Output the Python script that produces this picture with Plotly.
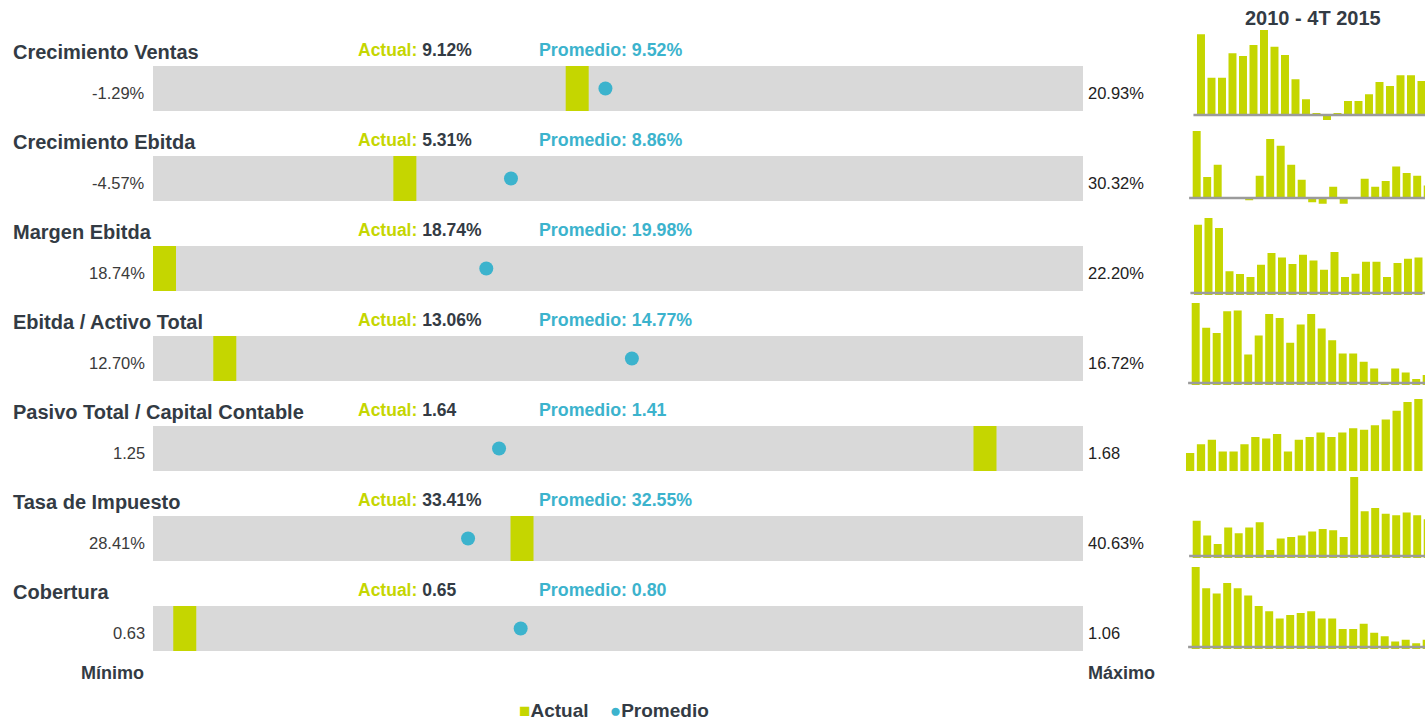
import plotly.graph_objects as go

W, H = 1425, 721

# ---------------- data ----------------
metrics = ["Crecimiento Ventas", "Crecimiento Ebitda", "Margen Ebitda",
           "Ebitda / Activo Total", "Pasivo Total / Capital Contable",
           "Tasa de Impuesto", "Cobertura"]
actual = [9.12, 5.31, 18.74, 13.06, 1.64, 33.41, 0.65]
promedio = [9.52, 8.86, 19.98, 14.77, 1.41, 32.55, 0.80]
minimo = [-1.29, -4.57, 18.74, 12.70, 1.25, 28.41, 0.63]
maximo = [20.93, 30.32, 22.20, 16.72, 1.68, 40.63, 1.06]
is_pct = [True, True, True, True, False, True, False]

spark_ventas = [19.86, 9.19, 9.19, 15.18, 14.53, 17.24, 20.93, 16.83, 14.77, 8.78, 3.86,
                0.41, -1.23, 0.41, 3.45, 3.45, 5.09, 8.13, 7.14, 9.77, 9.77, 8.37]
spark_ebitda = [30.32, 9.46, 15.0, 0, 0, -1.05, 10.06, 26.7, 23.6, 15.0, 8.26,
                -1.95, -2.55, 5.1, -2.55, 0, 8.7, 5.1, 7.66, 14.26, 11.26, 10.06, 5.7]
spark_margen = [21.84, 22.20, 21.67, 19.36, 19.21, 19.05, 19.71, 20.33, 20.10, 19.75, 20.24,
                19.94, 19.44, 20.39, 19.05, 19.23, 19.87, 19.87, 19.05, 19.80, 20.03, 20.10]
spark_activo = [16.72, 15.42, 15.14, 16.28, 16.33, 14.00, 15.00, 16.14, 15.93, 14.62, 15.58,
                16.14, 15.37, 14.76, 14.06, 14.06, 13.62, 13.27, 12.50, 13.27, 13.06, 12.71, 12.92]
spark_pasivo = [1.31, 1.37, 1.40, 1.32, 1.32, 1.37, 1.42, 1.41, 1.44, 1.32, 1.40,
                1.42, 1.45, 1.42, 1.45, 1.48, 1.47, 1.50, 1.54, 1.60, 1.66, 1.68]
spark_impuesto = [33.29, 30.82, 29.42, 32.17, 31.21, 32.17, 33.06, 28.41, 30.32, 30.60, 30.82,
                  31.49, 31.94, 31.72, 30.60, 40.63, 34.91, 35.42, 34.46, 34.24, 34.69, 34.24, 33.57]
spark_cobertura = [1.06, 0.94, 0.91, 0.97, 0.94, 0.90, 0.84, 0.81, 0.77, 0.79, 0.80,
                   0.81, 0.77, 0.77, 0.71, 0.71, 0.74, 0.69, 0.67, 0.64, 0.65, 0.63, 0.65]
sparks = [spark_ventas, spark_ebitda, spark_margen, spark_activo,
          spark_pasivo, spark_impuesto, spark_cobertura]
spark_title = "2010 - 4T 2015"

# ---------------- style / layout constants ----------------
GREEN = "#c5d600"
BLUE = "#3cb3cd"
GRAY = "#d9d9d9"
DARK = "#333b44"
FONT = "Liberation Sans, Arial, sans-serif"

BAR_L, BAR_R = 153, 1083       # px of the bullet track
ROW_TOP0, ROW_H, ROW_STEP = 66, 45, 90
ACT_W_PX = 23

# sparkline geometry per row: baseline px, top px, floor value, px below, first bar left px, spacing px
spark_geo = [
    (115, 30, 0.0, 7, 1197.0, 10.5),
    (198, 131, 0.0, 7, 1192.7, 10.5),
    (293, 218, 18.2, 2, 1194.0, 10.5),
    (383, 303, 12.5, 2, 1191.7, 10.5),
    (469, 399, 1.2, 2, 1186.0, 10.87),
    (556, 477, 27.4, 2, 1192.7, 10.5),
    (647, 567, 0.609, 2, 1191.7, 10.5),
]
show_baseline = [True, True, True, True, False, True, True]


def px(x):
    return x / W


def py(y):
    return 1 - y / H


def fmt(v, pct):
    return f"{v:.2f}%" if pct else f"{v:.2f}"


fig = go.Figure()
layout = dict(
    width=W, height=H, margin=dict(l=0, r=0, t=0, b=0),
    paper_bgcolor="white", plot_bgcolor="rgba(0,0,0,0)",
    showlegend=False, barmode="overlay", bargap=0.24,
    font=dict(family=FONT, color=DARK),
)
annotations = []
shapes = []

n = len(metrics)
for i in range(n):
    ax = i + 1
    xa, ya = f"x{ax}", f"y{ax}"
    top = ROW_TOP0 + i * ROW_STEP
    lo, hi = minimo[i], maximo[i]
    w = (hi - lo) * ACT_W_PX / (BAR_R - BAR_L)
    layout[f"xaxis{ax}"] = dict(domain=[px(BAR_L), px(BAR_R)], range=[lo, hi],
                                visible=False, fixedrange=True, anchor=ya)
    layout[f"yaxis{ax}"] = dict(domain=[py(top + ROW_H), py(top)], range=[0, 1],
                                visible=False, fixedrange=True, anchor=xa)
    fig.add_trace(go.Bar(orientation="h", y=[0.5], x=[hi - lo], base=[lo], width=1,
                         marker=dict(color=GRAY, line=dict(width=0)),
                         xaxis=xa, yaxis=ya, hoverinfo="skip"))
    fig.add_trace(go.Bar(orientation="h", y=[0.5], x=[w], base=[max(actual[i] - w, lo)], width=1,
                         marker=dict(color=GREEN, line=dict(width=0)), name="Actual",
                         xaxis=xa, yaxis=ya))
    fig.add_trace(go.Scatter(x=[promedio[i]], y=[0.5], mode="markers", name="Promedio",
                             marker=dict(color=BLUE, size=14, line=dict(width=0)),
                             xaxis=xa, yaxis=ya, cliponaxis=False))

    # texts
    annotations.append(dict(x=px(11), y=py(52 + i * ROW_STEP), xref="paper", yref="paper",
                            xanchor="left", yanchor="middle", showarrow=False,
                            text=f"<b>{metrics[i]}</b>", font=dict(size=20, color=DARK)))
    annotations.append(dict(x=px(356), y=py(50 + i * ROW_STEP), xref="paper", yref="paper",
                            xanchor="left", yanchor="middle", showarrow=False,
                            text=f"<b><span style='color:{GREEN}'>Actual:</span> {fmt(actual[i], is_pct[i])}</b>",
                            font=dict(size=17.5, color=DARK)))
    annotations.append(dict(x=px(537), y=py(50 + i * ROW_STEP), xref="paper", yref="paper",
                            xanchor="left", yanchor="middle", showarrow=False,
                            text=f"<b>Promedio: {fmt(promedio[i], is_pct[i])}</b>",
                            font=dict(size=17.8, color=BLUE)))
    annotations.append(dict(x=px(147), y=py(93 + i * ROW_STEP), xref="paper", yref="paper",
                            xanchor="right", yanchor="middle", showarrow=False,
                            text=fmt(minimo[i], is_pct[i]), font=dict(size=16.5, color="#3a3a3a")))
    annotations.append(dict(x=px(1086), y=py(93 + i * ROW_STEP), xref="paper", yref="paper",
                            xanchor="left", yanchor="middle", showarrow=False,
                            text=fmt(maximo[i], is_pct[i]), font=dict(size=16.5, color="#222222")))

    # sparkline
    sx = n + 1 + i
    sxa, sya = f"x{sx}", f"y{sx}"
    base_px, top_px, floor, below, first_left, step = spark_geo[i]
    vals = sparks[i]
    vmax = max(vals)
    ppu = (base_px - top_px) / (vmax - floor)
    left_px = first_left - step * (1 - 0.76) / 2
    layout[f"xaxis{sx}"] = dict(domain=[px(left_px), 1.0],
                                range=[-0.5, -0.5 + (W - left_px) / step],
                                visible=False, fixedrange=True, anchor=sya)
    layout[f"yaxis{sx}"] = dict(domain=[py(base_px + below), py(top_px)],
                                range=[floor - below / ppu, vmax],
                                visible=False, fixedrange=True, anchor=sxa)
    fig.add_trace(go.Bar(x=list(range(len(vals))), y=vals, width=0.76,
                         marker=dict(color=GREEN, line=dict(width=0)),
                         xaxis=sxa, yaxis=sya, hovertemplate="%{y:.2f}<extra></extra>"))
    if show_baseline[i]:
        shapes.append(dict(type="line", xref=f"{sxa} domain", yref=sya,
                           x0=-0.01, x1=1, y0=floor, y1=floor,
                           line=dict(color="#9b9b9b", width=2.5), layer="above"))

annotations.append(dict(x=px(1313), y=py(18), xref="paper", yref="paper", xanchor="center",
                        yanchor="middle", showarrow=False, text=f"<b>{spark_title}</b>",
                        font=dict(size=20, color=DARK)))
annotations.append(dict(x=px(79), y=py(673), xref="paper", yref="paper", xanchor="left",
                        yanchor="middle", showarrow=False, text="<b>Mínimo</b>",
                        font=dict(size=18, color=DARK)))
annotations.append(dict(x=px(1086), y=py(673), xref="paper", yref="paper", xanchor="left",
                        yanchor="middle", showarrow=False, text="<b>Máximo</b>",
                        font=dict(size=18, color=DARK)))
annotations.append(dict(x=px(614), y=py(710), xref="paper", yref="paper", xanchor="center",
                        yanchor="middle", showarrow=False,
                        text=(f"<span style='color:{GREEN}'>■</span><b>Actual</b>    "
                              f"<span style='color:{BLUE}'>●</span><b>Promedio</b>"),
                        font=dict(size=19, color=DARK)))

layout["annotations"] = annotations
layout["shapes"] = shapes
fig.update_layout(**layout)
fig.write_html("out.html", config={"displayModeBar": False},
               post_script="document.body.style.margin='0';")
